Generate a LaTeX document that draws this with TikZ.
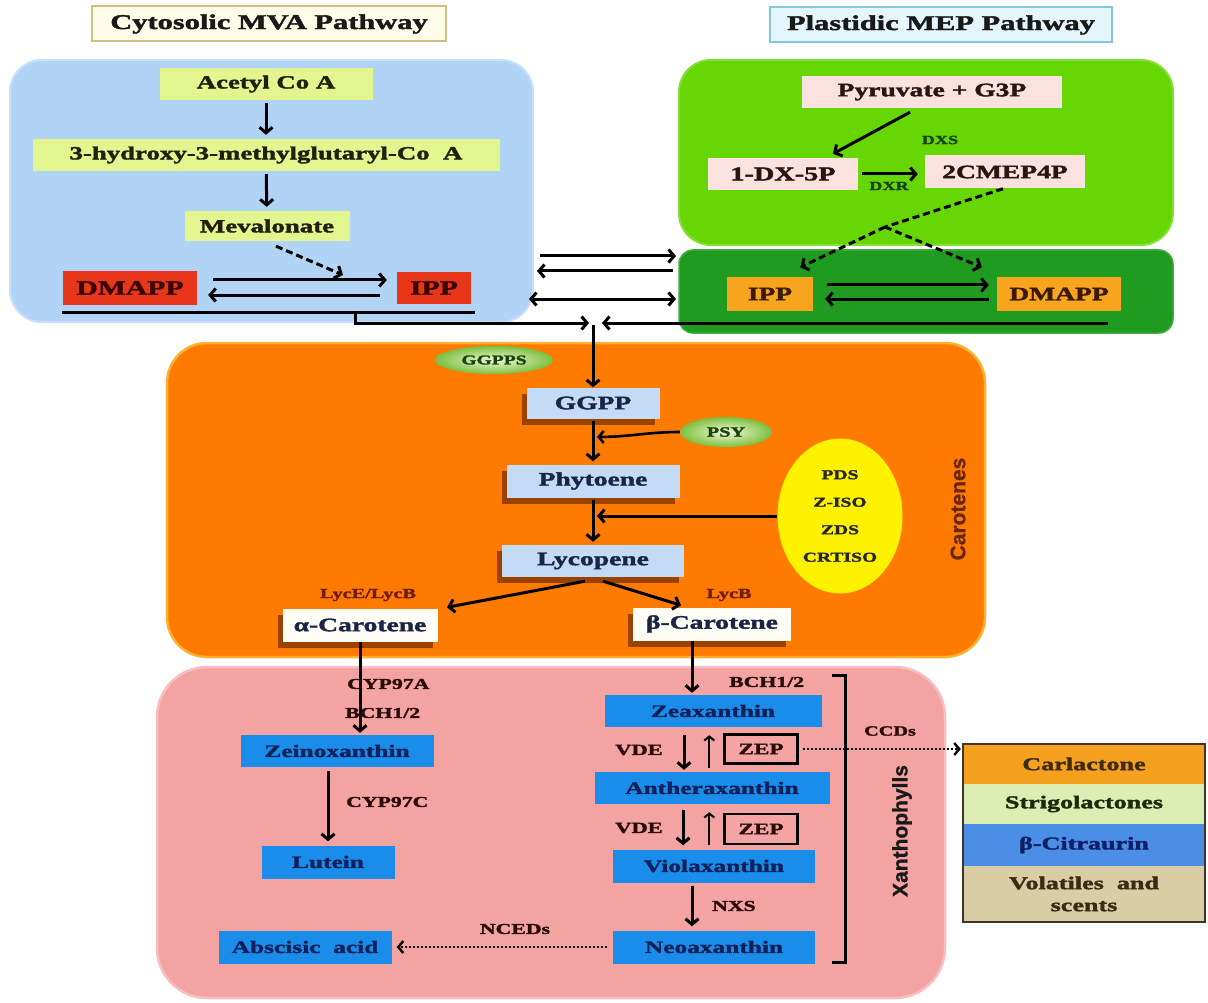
\documentclass[tikz,border=0pt]{standalone}
\usepackage{fontspec}
\setmainfont[FakeStretch=1.45, BoldFeatures={FakeBold=2}]{Liberation Serif}
\newfontfamily\sansbold[BoldFeatures={FakeBold=1}]{Liberation Sans}
\usetikzlibrary{arrows.meta,shapes.geometric,shadows}
\newcommand\myfs[1]{\fontsize{#1}{#1}\selectfont}
\definecolor{mvabg}{HTML}{B0D3F6}
\definecolor{mepbg}{HTML}{66D604}
\definecolor{mepdk}{HTML}{1F9C1F}
\definecolor{carbg}{HTML}{FF7A00}
\definecolor{xanbg}{HTML}{F4A3A3}
\definecolor{ygn}{HTML}{E3F58E}
\definecolor{redbx}{HTML}{E8361A}
\definecolor{orbx}{HTML}{F7A41E}
\definecolor{pinkbx}{HTML}{FCE2DF}
\definecolor{lbbx}{HTML}{C4DBF5}
\definecolor{whbx}{HTML}{FFFDF6}
\definecolor{blbx}{HTML}{1A8DEA}
\definecolor{yelc}{HTML}{FFF200}
\definecolor{ttlAf}{HTML}{FFFCE8}
\definecolor{ttlAd}{HTML}{D6BC80}
\definecolor{ttlBf}{HTML}{E4F5FB}
\definecolor{ttlBd}{HTML}{82C8E0}
\definecolor{mvat}{HTML}{1F200F}
\definecolor{redt}{HTML}{3A0505}
\definecolor{ort}{HTML}{3A1A00}
\definecolor{pinkt}{HTML}{2A1515}
\definecolor{cart}{HTML}{1A2545}
\definecolor{xant}{HTML}{10205A}
\definecolor{lblc}{HTML}{2B0A0A}
\definecolor{lycc}{HTML}{701C00}
\definecolor{dgt}{HTML}{1A4212}
\definecolor{ggin}{HTML}{F2F9D6}
\definecolor{ggout}{HTML}{7CC040}
\definecolor{shc}{HTML}{5A1E00}
\definecolor{crtt}{HTML}{6B2508}
\definecolor{carrim}{HTML}{FFB030}
\definecolor{lg1}{HTML}{F5A01E}
\definecolor{lg2}{HTML}{DCEEB4}
\definecolor{lg3}{HTML}{4A8EE6}
\definecolor{lg4}{HTML}{D9CDA6}
\definecolor{lg1t}{HTML}{3D2B0A}
\definecolor{lg2t}{HTML}{1D2A0E}
\definecolor{lg3t}{HTML}{0F1F66}
\definecolor{lg4t}{HTML}{3A2C12}
\definecolor{lgfr}{HTML}{40352A}
\begin{document}
\begin{tikzpicture}[x=1pt,y=-1pt,
 bx/.style={rectangle, inner sep=0pt, align=center, font=\bfseries\myfs{18.5}},
 ttl/.style={rectangle, inner sep=0pt, minimum height=35pt, line width=2pt, font=\bfseries\myfs{21}, text=black!90},
 arr/.style={line width=3pt, -{Straight Barb[length=5.5pt,width=13pt]}},
 arrboth/.style={line width=3pt, {Straight Barb[length=5.5pt,width=13pt]}-{Straight Barb[length=5.5pt,width=13pt]}},
 arrthin/.style={line width=2pt, -{Straight Barb[length=4pt,width=10pt]}},
 dsh/.style={line width=3pt, dash pattern=on 7pt off 4pt},
 dshtip/.style={dsh, -{Straight Barb[length=5.5pt,width=13pt]}},
 dotarr/.style={line width=2.4pt, dash pattern=on 2pt off 2pt, -{Straight Barb[length=5pt,width=12pt]}},
 lbl/.style={font=\bfseries\myfs{15}, text=lblc, inner sep=0pt},
 cshad/.style={drop shadow={shadow xshift=-5pt,shadow yshift=-6pt,fill=shc,opacity=0.6}},
 mvanode/.style={bx, fill=ygn, text=mvat, minimum height=32pt},
 carnode/.style={bx, fill=lbbx, text=cart, minimum height=32pt, font=\bfseries\myfs{19}, cshad},
 xannode/.style={bx, fill=blbx, text=xant, minimum height=33pt, font=\bfseries\myfs{17.5}},
 enz/.style={ellipse, inner sep=0pt, shade, inner color=ggin, outer color=ggout, text=dgt, font=\bfseries\myfs{13.5}},
 zepbox/.style={rectangle, inner sep=0pt, draw=black, line width=2.4pt, minimum width=73pt, minimum height=29pt, font=\bfseries\myfs{16}, text=lblc},
 legnode/.style={bx, minimum width=242pt, font=\bfseries\myfs{18}}
]
\useasboundingbox (0,0) rectangle (1208,1003);
\fill[white] (0,0) rectangle (1208,1003);

% ---------- titles
\node[ttl, fill=ttlAf, draw=ttlAd, minimum width=354pt] (tmva) at (269,24) {Cytosolic MVA Pathway};
\node[ttl, fill=ttlBf, draw=ttlBd, minimum width=342pt] (tmep) at (941,25) {Plastidic MEP Pathway};

% ---------- compartments
\filldraw[fill=mvabg, draw=mvabg!70!white, line width=2pt, rounded corners=32pt] (10,60) rectangle (533,322);
\filldraw[fill=mepbg, draw=mepbg!80!white, line width=2pt, rounded corners=32pt] (679,60) rectangle (1173,245);
\filldraw[fill=mepdk, draw=mepdk!85!white, line width=1.5pt, rounded corners=14pt] (679,250) rectangle (1173,333);
\filldraw[fill=carbg, draw=carrim, line width=2.5pt, rounded corners=40pt] (167,343) rectangle (985,657);
\filldraw[fill=xanbg, draw=xanbg!70!white, line width=2.5pt, rounded corners=50pt] (157,667) rectangle (945,998);

% ---------- MVA pathway
\node[mvanode, minimum width=213pt] (acetyl) at (266,84) {Acetyl Co A};
\node[mvanode, minimum width=467pt] (hmg) at (266,155) {3-hydroxy-3-methylglutaryl-Co\ \ A};
\node[mvanode, minimum width=165pt, minimum height=30pt] (meva) at (267,226) {Mevalonate};
\node[bx, fill=redbx, text=redt, minimum width=134pt, minimum height=33pt, font=\bfseries\myfs{20.5}] (dmappL) at (130,288) {DMAPP};
\node[bx, fill=redbx, text=redt, minimum width=74pt, minimum height=32pt, font=\bfseries\myfs{20.5}] (ippL) at (434,288) {IPP};

\draw[arr, shorten <=3pt, shorten >=4pt] (acetyl) -- (hmg);
\draw[arr, shorten <=3pt, shorten >=4pt] (hmg) -- (meva);
\coordinate (mvt) at (343,275);
\draw[dshtip] ([xshift=9pt,yshift=-5pt]meva.south) -- (mvt);
\draw[arr] ([xshift=16pt,yshift=8pt]dmappL.east) -- ([xshift=-10pt,yshift=8pt]ippL.west);
\draw[arr] ([xshift=-17pt,yshift=-7pt]ippL.west) -- ([xshift=11pt,yshift=-7pt]dmappL.east);
\draw[line width=3pt] ([xshift=-1pt,yshift=-24pt]dmappL.west) -- ([xshift=4pt,yshift=-24pt]ippL.east);

% ---------- MEP pathway
\node[bx, fill=pinkbx, text=pinkt, minimum width=260pt, minimum height=32pt, font=\bfseries\myfs{19}] (pyr) at (932,92) {Pyruvate + G3P};
\node[bx, fill=pinkbx, text=pinkt, minimum width=150pt, minimum height=32pt, font=\bfseries\myfs{19.5}] (dx5p) at (783,174) {1-DX-5P};
\node[bx, fill=pinkbx, text=pinkt, minimum width=160pt, minimum height=33pt, font=\bfseries\myfs{19}] (cmep) at (1005,172) {2CMEP4P};
\node[bx, fill=orbx, text=ort, minimum width=86pt, minimum height=33pt, font=\bfseries\myfs{19}] (ippR) at (770,294) {IPP};
\node[bx, fill=orbx, text=ort, minimum width=124pt, minimum height=33pt, font=\bfseries\myfs{19}] (dmappR) at (1059,294) {DMAPP};

\draw[arr] ([xshift=-22pt,yshift=-4pt]pyr.south) -- ([xshift=50pt,yshift=4pt]dx5p.north);
\node[lbl, text=dgt, font=\bfseries\myfs{12.5}] (dxs) at (940,140) {DXS};
\draw[arr, shorten <=4pt, shorten >=7pt] (dx5p.east) -- (dx5p.east -| cmep.west);
\node[lbl, text=dgt, font=\bfseries\myfs{12.5}] (dxr) at (889,186) {DXR};
\coordinate (dj) at (885,227);
\draw[dsh] ([xshift=-2pt]cmep.south) -- (dj);
\draw[dshtip] (dj) -- ([xshift=-13pt,yshift=10pt]ippR.north east);
\draw[dshtip] (dj) -- ([xshift=-15pt,yshift=10pt]dmappR.north west);
\draw[arr] ([xshift=14pt,yshift=9pt]ippR.east) -- ([xshift=-8pt,yshift=9pt]dmappR.west);
\draw[arr] ([xshift=-8pt,yshift=-5pt]dmappR.west) -- ([xshift=12pt,yshift=-5pt]ippR.east);

% ---------- exchange between compartments
\coordinate (x1a) at (540,256); \coordinate (x1b) at (676,256);
\coordinate (x2a) at (673,271); \coordinate (x2b) at (537,271);
\coordinate (x3a) at (529,299); \coordinate (x3b) at (676,299);
\draw[arr] (x1a) -- (x1b);
\draw[arr] (x2a) -- (x2b);
\draw[arrboth] (x3a) -- (x3b);
\coordinate (br) at (355,312);
\coordinate (br2) at (1108,323);
\coordinate (jn) at (593,323);
\draw[arr] (br) |- ([xshift=-4pt]jn);
\draw[arr] (br2) -- ([xshift=9pt]jn);

% ---------- carotenes
\node[enz, minimum width=118pt, minimum height=28pt] (ggpps) at (494,360) {GGPPS};
\node[carnode, minimum width=133pt, minimum height=31pt] (ggpp) at (593,403) {GGPP};
\node[enz, minimum width=92pt, minimum height=30pt, font=\bfseries\myfs{14}] (psy) at (726,432) {PSY};
\node[carnode, minimum width=173pt, minimum height=33pt] (phyt) at (593,481) {Phytoene};
\node[ellipse, inner sep=0pt, fill=yelc, minimum width=125pt, minimum height=155pt, align=center, font=\bfseries\fontsize{13.5}{27.5}\selectfont, text=black!85] (yel) at (840,516) {PDS\\Z-ISO\\ZDS\\CRTISO};
\node[carnode, minimum width=182pt, minimum height=32pt] (lyc) at (593,561) {Lycopene};
\node[carnode, fill=whbx, minimum width=155pt, minimum height=33pt] (alpha) at (360,625) {α-Carotene};
\node[carnode, fill=whbx, minimum width=158pt, minimum height=33pt] (beta) at (712,624) {β-Carotene};

\draw[arr] ([yshift=-2pt]jn) -- (ggpp.north);
\draw[arr, shorten <=2pt, shorten >=3pt] (ggpp) -- (phyt);
\path (ggpp.south) -- (phyt.north) coordinate[pos=0.4] (m1);
\draw[line width=2.6pt, -{Straight Barb[length=5pt,width=12pt]}] (psy.west) to[out=180,in=0] ([xshift=4pt]m1);
\draw[arr, shorten <=2pt, shorten >=3pt] (phyt) -- (lyc);
\path (phyt.south) -- (lyc.north) coordinate[pos=0.45] (m2);
\draw[arr, shorten >=4pt] (yel.west) -- (yel.west -| m2);
\draw[arr] ([xshift=-8pt,yshift=-4pt]lyc.south) -- ([xshift=87pt,yshift=1pt]alpha.north);
\draw[arr] ([xshift=10pt,yshift=-4pt]lyc.south) -- ([xshift=-31pt,yshift=2pt]beta.north);
\node[lbl, text=lycc, font=\bfseries\myfs{14}] (lyceb) at (368,595) {LycE/LycB};
\node[lbl, text=lycc, font=\bfseries\myfs{14}] (lycb) at (729,595) {LycB};
\node[rotate=90, inner sep=0pt, text=crtt, font=\sansbold\bfseries\myfs{21}] (cartxt) at (958,509) {Carotenes};

% ---------- xanthophylls
\node[xannode, minimum width=193pt, minimum height=32pt] (zein) at (337,751) {Zeinoxanthin};
\node[xannode, minimum width=133pt] (lutein) at (328,862) {Lutein};
\node[xannode, minimum width=173pt] (aba) at (305,947) {Abscisic\ \ acid};
\node[xannode, minimum width=217pt, minimum height=32pt] (zea) at (713,711) {Zeaxanthin};
\node[xannode, minimum width=235pt, minimum height=32pt] (anth) at (712,788) {Antheraxanthin};
\node[xannode, minimum width=202pt] (viola) at (714,866) {Violaxanthin};
\node[xannode, minimum width=202pt] (neo) at (714,947) {Neoaxanthin};
\node[zepbox] (zep1) at (761,749) {ZEP};
\node[zepbox, minimum height=30pt] (zep2) at (761,829) {ZEP};

\draw[arr, shorten >=2pt] (alpha.south) -- (alpha.south |- zein.north);
\node[lbl, anchor=west] (cyp97a) at (347,684) {CYP97A};
\node[lbl, anchor=west] (bch1) at (345,713) {BCH1/2};
\draw[arr, shorten <=4pt, shorten >=4pt] (lutein.north |- zein.south) -- (lutein.north);
\node[lbl, anchor=west] (cyp97c) at (346,802) {CYP97C};

\draw[arr, shorten >=2pt] ([xshift=-20pt]beta.south) -- ([xshift=-20pt]beta.south |- zea.north);
\node[lbl, anchor=west] (bch2) at (729,682) {BCH1/2};
\draw[arr, shorten <=8pt, shorten >=2pt] ([xshift=-29pt]zea.south) -- ([xshift=-29pt]zea.south |- anth.north);
\draw[arrthin, shorten <=4pt, shorten >=8pt] ([xshift=-14pt]zep1.west |- anth.north) -- ([xshift=-14pt]zep1.west |- zea.south);
\node[lbl, font=\bfseries\myfs{15.5}] (vde1) at (639,750) {VDE};
\draw[arr, shorten <=6pt, shorten >=4pt] ([xshift=-29pt]anth.south) -- ([xshift=-29pt]anth.south |- viola.north);
\draw[arrthin, shorten <=4pt, shorten >=8pt] ([xshift=-14pt]zep2.west |- viola.north) -- ([xshift=-14pt]zep2.west |- anth.south);
\node[lbl, font=\bfseries\myfs{15.5}] (vde2) at (639,828) {VDE};
\draw[arr, shorten <=3pt, shorten >=4pt] ([xshift=-22pt]viola.south) -- ([xshift=-22pt]viola.south |- neo.north);
\node[lbl, anchor=west] (nxs) at (712,906) {NXS};
\draw[dotarr, shorten <=6pt, shorten >=5pt] (neo.west) -- (aba.east);
\node[lbl] (nceds) at (515,929) {NCEDs};

% bracket
\coordinate (bk1) at (832,675); \coordinate (bk2) at (845,675);
\coordinate (bk3) at (845,962); \coordinate (bk4) at (832,962);
\draw[line width=3pt] (bk1) -- (bk2) -- (bk3) -- (bk4);
\node[rotate=90, inner sep=0pt, text=black!90, font=\sansbold\bfseries\myfs{21}] (xantxt) at (902,831) {Xanthophylls};

% ---------- legend of cleavage products
\node[legnode, fill=lg1, text=lg1t, minimum height=40pt] (leg1) at (1084,764) {Carlactone};
\node[legnode, fill=lg2, text=lg2t, minimum height=40pt] (leg2) at (1084,804) {Strigolactones};
\node[legnode, fill=lg3, text=lg3t, minimum height=42pt] (leg3) at (1084,845) {β-Citraurin};
\node[legnode, fill=lg4, text=lg4t, minimum height=56pt, font=\bfseries\fontsize{18}{22}\selectfont] (leg4) at (1084,894) {Volatiles\ \ and\\scents};
\draw[line width=2.5pt, draw=lgfr] (leg1.north west) rectangle (leg4.south east);
\draw[dotarr, shorten <=4pt, shorten >=2pt] (zep1.east) -- (zep1.east -| leg1.west);
\node[lbl, font=\bfseries\myfs{14}] (ccds) at (890,731) {CCDs};
\end{tikzpicture}
\end{document}
